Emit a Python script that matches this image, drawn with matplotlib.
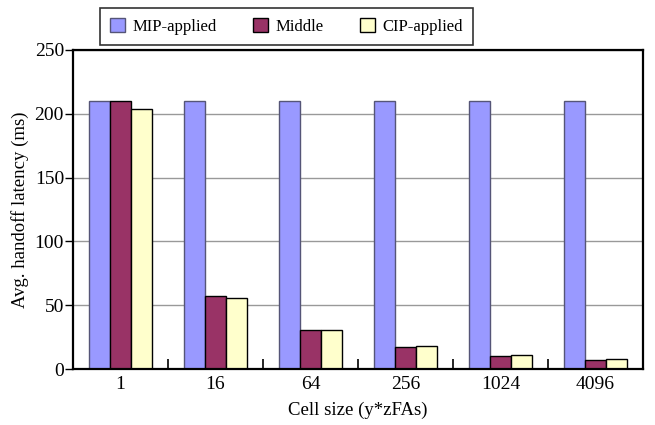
import matplotlib
matplotlib.use("Agg")
import matplotlib.pyplot as plt
import numpy as np

categories = ["1", "16", "64", "256", "1024", "4096"]
series_names = ["MIP-applied", "Middle", "CIP-applied"]
mip = [210, 210, 210, 210, 210, 210]
middle = [210, 57, 30.5, 17, 10, 7]
cip = [204, 55.5, 30.5, 18, 11, 8]
yticks = [0, 50, 100, 150, 200, 250]

plt.rcParams['font.family'] = ['Liberation Serif', 'DejaVu Serif']
plt.rcParams['font.size'] = 14

fig = plt.figure(figsize=(6.55, 4.25), dpi=100)
ax = fig.add_axes([73/655, 1-369/425, 570/655, 319/425])

x = np.arange(len(categories))
w = 0.222
colors = ["#9999FF", "#993366", "#FFFFCC"]
edges = ["#555577", "#000000", "#000000"]
for i, (vals, c, e, n) in enumerate(zip([mip, middle, cip], colors, edges, series_names)):
    ax.bar(x + (i - 1) * w, vals, width=w, color=c, edgecolor=e, linewidth=1.0, label=n, zorder=3)

ax.set_xlim(-0.5, len(categories) - 0.5)
ax.set_ylim(0, 250)
ax.set_yticks(yticks)
ax.yaxis.grid(True, color="#999999", linewidth=1.0, zorder=0)
ax.set_axisbelow(True)
ax.set_xticks(x)
ax.set_xticklabels(categories)
ax.tick_params(axis='x', length=0, pad=5)
ax.set_xticks(np.arange(len(categories) - 1) + 0.5, minor=True)
ax.tick_params(axis='x', which='minor', direction='in', length=7, width=1.2)
ax.tick_params(axis='y', direction='out', length=6, width=1.0, pad=0.5)
for s in ax.spines.values():
    s.set_linewidth(1.6)
    s.set_zorder(5)

ax.set_xlabel("Cell size (y*zFAs)", fontsize=13.5, labelpad=6)
ax.set_ylabel("Avg. handoff latency (ms)", fontsize=13.5, labelpad=4)

leg = fig.legend(loc='upper left', bbox_to_anchor=(100/655, 1-43/425, 373/655, 35/425),
                 mode='expand', ncol=3,
                 frameon=True, fancybox=False, edgecolor='black', fontsize=12,
                 handlelength=0.9, handleheight=0.9, columnspacing=2.4,
                 borderpad=0.6, handletextpad=0.45, borderaxespad=0)
leg.get_frame().set_linewidth(1.2)

fig.savefig("out.png", dpi=100)
